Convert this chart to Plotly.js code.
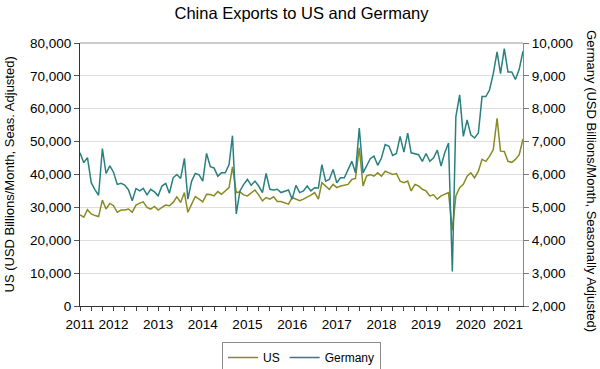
<!DOCTYPE html>
<html>
<head>
<meta charset="utf-8">
<script src="https://cdn.plot.ly/plotly-3.0.1.min.js"></script>
<style>html,body{margin:0;padding:0;background:#fff;}#chart{width:600px;height:369px;}</style>
</head>
<body>
<div id="chart"></div>
<script>
// Monthly observations, first month of the series
const startYear = 2011;
const startMonth = 10; // October 2011

// China exports to the US (left axis)
const usValues = [
  27700, 27000, 29300, 28000, 27500, 27200, 32200, 29500, 31200, 30500,
  28500, 29200, 29200, 29500, 28500, 30700, 31300, 31700, 30000, 29500,
  30300, 29200, 30000, 30700, 30500, 31500, 33200, 31500, 34500, 28500,
  31000, 33300, 32500, 31700, 34000, 33900, 33500, 34800, 34000, 35000,
  36000, 42300, 34500, 34700, 33800, 33500, 34500, 35300, 33800, 32000,
  33000, 32500, 33200, 31800, 31800, 31500, 31000, 33000, 32500, 32000,
  32500, 33000, 33700, 34500, 32500, 37500, 36500, 35500, 37000, 36000,
  36500, 36700, 37000, 38500, 38800, 48100, 36500, 39500, 40000, 39500,
  40500, 39500, 41000, 40500, 40000, 40300, 38000, 37500, 38000, 35000,
  37000, 36500, 35500, 35000, 33500, 33800, 32500, 33500, 34000, 34500,
  23000, 33500, 36000, 37000, 39500, 40500, 39000, 41000, 44600, 44000,
  45500, 47600, 57100, 47100, 47000, 44000, 43700, 44600, 46000, 50800
];

// China exports to Germany (right axis)
const germanyValues = [
  6660, 6360, 6510, 5750, 5530, 5370, 6790, 6030, 6260, 6070,
  5700, 5730, 5680, 5530, 5200, 5570, 5500, 5580, 5380, 5550,
  5470, 5350, 5650, 5730, 5430, 5900, 6000, 5880, 6490, 5250,
  5800, 6030, 5990, 5800, 6640, 6240, 6200, 5950, 6050, 6050,
  6300, 7180, 4800, 5500, 5700, 5850, 5670, 5800, 5650, 5450,
  6030, 5550, 5530, 5550, 5450, 5500, 5530, 5250, 5670, 5450,
  5500, 5650, 5500, 5600, 5590, 6300, 5800, 5850, 6150, 5750,
  5900, 5900, 6150, 6400, 6050, 7410, 6050, 6250, 6480, 6560,
  6280, 6500, 6910, 6860, 6580, 6640, 7160, 6680, 7260, 6660,
  6640, 6600, 6400, 6640, 6400, 6510, 6740, 6260, 6660, 6960,
  3050, 7760, 8420, 7160, 7660, 7210, 7110, 7260, 8370, 8370,
  8570, 9070, 9730, 9070, 9830, 9120, 9120, 8890, 9200, 9750
];

// Year labels and where they sit (centre of each year's observations)
const yearLabels = ['2011','2012','2013','2014','2015','2016','2017','2018','2019','2020','2021'];
const yearLabelDates = ['2011-10-01','2012-07-01','2013-07-01','2014-07-01','2015-07-01','2016-07-01',
                        '2017-07-01','2018-07-01','2019-07-01','2020-07-01','2021-05-01'];

const seriesNames = ['US', 'Germany'];

// Build the monthly date index
const dates = [];
for (let i = 0; i < usValues.length; i++) {
  const m0 = startMonth - 1 + i;
  const y = startYear + Math.floor(m0 / 12);
  const m = (m0 % 12) + 1;
  dates.push(y + '-' + String(m).padStart(2, '0') + '-01');
}

const FONT = 'Liberation Sans, Arial, sans-serif';
const usColor = '#8a8a22';
const deColor = '#29807f';

const traces = [
  { x: dates, y: usValues, name: seriesNames[0], type: 'scatter', mode: 'lines',
    line: { color: usColor, width: 1.5 }, yaxis: 'y' },
  { x: dates, y: germanyValues, name: seriesNames[1], type: 'scatter', mode: 'lines',
    line: { color: deColor, width: 1.5 }, yaxis: 'y2' }
];

const layout = {
  width: 600, height: 369,
  margin: { l: 80, r: 77, t: 43, b: 63, pad: 0, autoexpand: false },
  paper_bgcolor: '#fff', plot_bgcolor: '#fff',
  font: { family: FONT, size: 13, color: '#000' },
  title: { text: 'China Exports to US and Germany', font: { family: FONT, size: 16.5, color: '#000' },
           x: 0.5, xref: 'paper', xanchor: 'center', y: 0.965, yref: 'container', yanchor: 'middle' },
  showlegend: true,
  legend: { orientation: 'h', x: 0.5, xref: 'paper', xanchor: 'center',
            y: 1 - 342 / 369, yref: 'container', yanchor: 'top',
            bordercolor: '#8c8c8c', borderwidth: 1, font: { family: FONT, size: 12, color: '#000' },
            traceorder: 'normal', itemwidth: 30, tracegroupgap: 0 },
  xaxis: {
    type: 'date', range: [dates[0], dates[dates.length - 1]],
    tickmode: 'array', tickvals: yearLabelDates, ticktext: yearLabels,
    ticks: 'outside', ticklen: 6, tickcolor: 'rgba(0,0,0,0)',
    tickfont: { family: FONT, size: 13.5, color: '#000' },
    showgrid: false, zeroline: false,
    showline: true, linecolor: '#333', linewidth: 1,
    minor: { tickmode: 'linear', tick0: '2011-10-01', dtick: 'M3', ticks: 'outside', ticklen: 4,
             tickcolor: '#444', tickwidth: 1, showgrid: false }
  },
  yaxis: {
    range: [0, 80000], dtick: 10000, tickformat: ',d',
    ticks: 'outside', ticklen: 5, tickcolor: '#555',
    tickfont: { family: FONT, size: 13.5, color: '#000' },
    showgrid: true, gridcolor: '#dedede', gridwidth: 1, zeroline: false,
    showline: true, linecolor: '#333', linewidth: 1
  },
  yaxis2: {
    overlaying: 'y', side: 'right', range: [2000, 10000], dtick: 1000, tickformat: ',d',
    ticks: 'outside', ticklen: 5, tickcolor: '#777',
    tickfont: { family: FONT, size: 13.5, color: '#000' },
    showgrid: false, zeroline: false,
    showline: true, linecolor: '#888', linewidth: 1
  },
  shapes: [
    { type: 'line', xref: 'paper', yref: 'paper', x0: 0, x1: 1, y0: 1, y1: 1,
      line: { color: '#9a9a9a', width: 1 } }
  ],
  annotations: [
    { text: 'US (USD Billions/Month, Seas. Adjusted)', xref: 'paper', yref: 'paper',
      x: (9 - 80) / 443, y: 0.5, xanchor: 'center', yanchor: 'middle', textangle: -90,
      showarrow: false, font: { family: FONT, size: 13, color: '#000' } },
    { text: 'Germany (USD Billions/Month, Seasonally Adjusted)', xref: 'paper', yref: 'paper',
      x: (592 - 80) / 443, y: 0.475, xanchor: 'center', yanchor: 'middle', textangle: 90,
      showarrow: false, font: { family: FONT, size: 13, color: '#000' } }
  ]
};

Plotly.newPlot('chart', traces, layout, { staticPlot: true, displayModeBar: false });
</script>
</body>
</html>
